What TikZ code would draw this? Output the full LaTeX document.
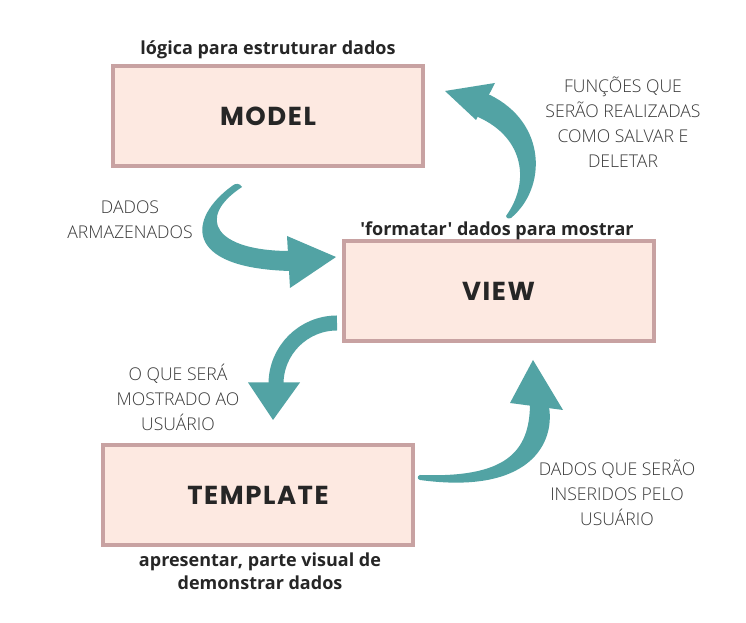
\documentclass[tikz,border=0pt]{standalone}
\usepackage{fontspec}
\setmainfont{Open Sans}
\newfontfamily\capfont{Open Sans}[Ligatures=TeXOff]
\newfontfamily\thinfont{Open Sans Light}
\newfontfamily\titlefont{Poppins}[LetterSpace=6]
\definecolor{boxline}{HTML}{C8A2A2}
\definecolor{boxfill}{HTML}{FDE9E1}
\definecolor{ink}{HTML}{262626}
\definecolor{labelgray}{HTML}{3A3A3A}
\definecolor{tealc}{HTML}{52A3A4}
\begin{document}
\begin{tikzpicture}[x=0.75pt,y=0.75pt,
  box/.style={draw=boxline, fill=boxfill, line width=3pt, minimum width=232.5pt,
    minimum height=75pt, inner sep=0pt, text=ink,
    font=\titlefont\bfseries\fontsize{19.5}{22}\selectfont},
  thinlab/.style={font=\thinfont\fontsize{13.2}{18.75}\selectfont, text=labelgray, align=center, inner sep=0pt},
  boldlab/.style={font=\capfont\bfseries\fontsize{13.5}{17.25}\selectfont, text=ink, align=center, inner sep=0pt},
  arrowfill/.style={fill=tealc, draw=none}]
\useasboundingbox (0,0) rectangle (746,623);
\fill[white] (0,0) rectangle (746,623);

% boxes
\node[box] (model) at (268,507) {MODEL};
\node[box] (view) at (498.5,332) {VIEW};
\node[box] (template) at (258,128) {TEMPLATE};

% bold captions
\node[boldlab] (modelcap) at (268,573) {lógica para estruturar dados};
\node[boldlab] (viewcap) at (497,392) {'formatar' dados para mostrar};
\node[boldlab] (templatecap) at (260,52) {apresentar, parte visual de\\demonstrar dados};

% thin labels
\node[thinlab] (lab1) at (130,403) {DADOS\\ARMAZENADOS};
\node[thinlab] (lab2) at (623,501) {FUNÇÕES QUE\\SERÃO REALIZADAS\\COMO SALVAR E\\DELETAR};
\node[thinlab] (lab3) at (178,226) {O QUE SERÁ\\MOSTRADO AO\\USUÁRIO};
\node[thinlab] (lab4) at (617,130) {DADOS QUE SERÃO\\INSERIDOS PELO\\USUÁRIO};

% arrow 1: model -> view
\fill[arrowfill] (232,437) .. controls (188,405) and (182,355) .. (290,352)
  -- (295,352) -- (295,372)
  -- (290,372) .. controls (215,372) and (195,405) .. (242,436)
  .. controls (240,440) and (235,440) .. (232,437) -- cycle;
\fill[arrowfill] (287,387) -- (336,366) -- (290,335) -- cycle;

% arrow 2: view -> model
\fill[arrowfill] (511,405) .. controls (547,435) and (547,500) .. (490,528)
  -- (480,528) -- (470,512)
  -- (478,506) .. controls (525,485) and (530,440) .. (506,407)
  .. controls (507,404) and (509,404) .. (511,405) -- cycle;
\fill[arrowfill] (445,532) -- (495,540) -- (476,503) -- cycle;

% arrow 3: view -> template
\draw[tealc, line width=11.25pt] (337,300) arc[start angle=90, end angle=180, radius=45.75pt];
\fill[arrowfill] (248,240.5) -- (300,240.5) -- (273,203) -- cycle;

% arrow 4: template -> view
\fill[arrowfill] (420,143) .. controls (530,128) and (555,180) .. (549,216)
  -- (545,222) -- (532,224)
  -- (530,220) .. controls (530,170) and (505,145) .. (420,148)
  .. controls (417,147) and (417,144) .. (420,143) -- cycle;
\fill[arrowfill] (510,220) -- (533,263) -- (563,213) -- cycle;
\end{tikzpicture}
\end{document}
